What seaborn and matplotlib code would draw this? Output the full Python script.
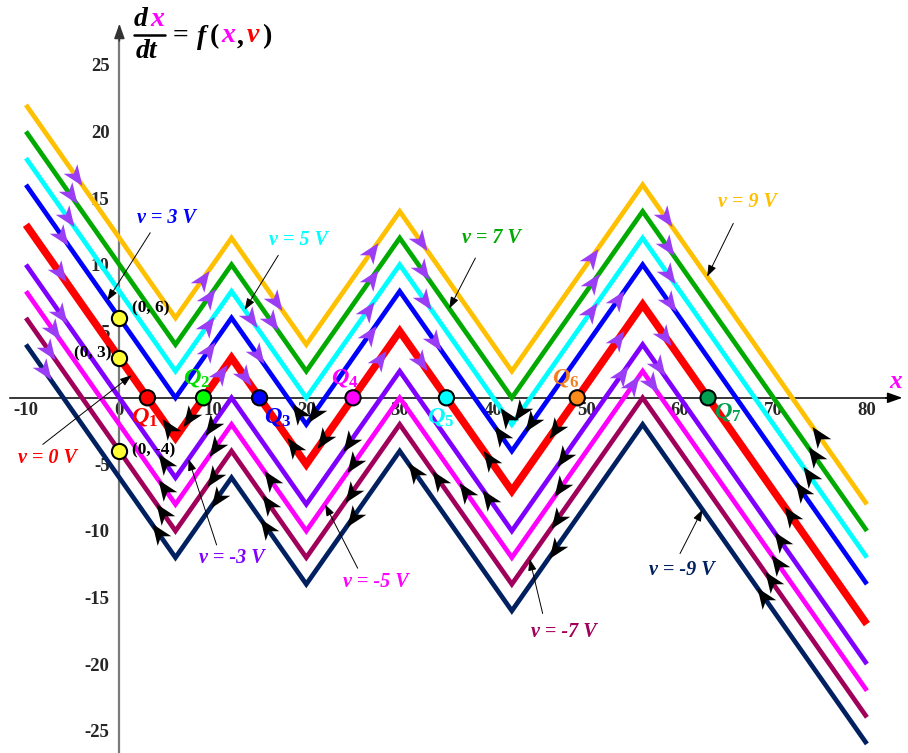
import numpy as np
import pandas as pd
import matplotlib
matplotlib.use("Agg")
import matplotlib.pyplot as plt
from matplotlib.path import Path
from matplotlib.markers import MarkerStyle
from matplotlib.transforms import Affine2D
import seaborn as sns

# ---------------------------------------------------------------- data
# vertices of the piecewise-linear base curve f(x) for v = 0
x_nodes = [-10, 6, 12, 20, 30, 42, 56, 80]
f_nodes = [13, -3, 3, -5, 5, -7, 7, -17]

# family of curves dx/dt = f(x) + v
v_levels = [9, 7, 5, 3, 0, -3, -5, -7, -9]
line_colors = ["#FFC000", "#00AA00", "#00FFFF", "#0000FF", "#FF0000",
               "#8000FF", "#FF00FF", "#A0005A", "#002060"]

# x positions of the direction arrowheads on each curve
arrow_x = {
    9: [-4.6, 8.9, 16.8, 27.0, 32.3, 50.6, 58.5, 74.8],
    7: [-5.2, 9.6, 16.3, 27.0, 32.5, 50.7, 58.7, 74.3],
    5: [-5.5, 9.5, 14.1, 26.6, 32.7, 50.5, 58.8, 41.4, 42.9, 73.8],
    3: [-6.1, 9.6, 14.8, 26.8, 33.8, 53.4, 58.9, 19.1, 20.8, 40.7, 44.1, 72.9],
    0: [-6.4, 10.9, 13.4, 27.9, 32.3, 53.4, 58.4, 5.2, 7.5, 18.6, 21.8, 39.6, 46.6, 71.8],
    -3: [-6.2, 53.8, 57.7, 4.8, 9.8, 24.6, 39.5, 47.5, 70.7],
    -5: [-7.0, 55.0, 57.0, 4.8, 10.2, 16.1, 25.0, 37.0, 47.2, 70.4],
    -7: [-7.5, 4.6, 10.0, 15.9, 24.8, 34.1, 46.8, 69.7],
    -9: [-8.0, 4.1, 10.4, 15.7, 25.0, 31.5, 46.6, 68.9],
}

# equilibrium points of the v = 0 curve
eq_x = [3, 9, 15, 25, 35, 49, 63]
eq_colors = ["#FF0000", "#00FF00", "#0000FF", "#FF00FF", "#00FFFF", "#FF8C1A", "#00A050"]
eq_label_colors = ["#FF0000", "#00DD00", "#0000FF", "#FF00FF", "#00FFFF", "#F08020", "#00A050"]

# curves whose intercept with the vertical axis is marked
marked_v = [3, 0, -7]

x_ticks = [-10, 0, 10, 20, 30, 40, 50, 60, 70, 80]
y_ticks = [-25, -20, -15, -10, -5, 5, 10, 15, 20, 25]

# ---------------------------------------------------------------- layout
label_pos = {9: (67.2, 14.7), 7: (39.8, 11.98), 5: (19.2, 11.86), 3: (5.06, 13.5),
             0: (-7.7, -4.54), -3: (12.0, -12.05), -5: (27.4, -13.8),
             -7: (47.6, -17.56), -9: (60.2, -12.95)}
pointer_tail = {9: (65.7, 13.1), 7: (38.1, 10.5), 5: (17.0, 10.7), 3: (3.3, 12.4),
                0: (-8.2, -3.5), -3: (10.4, -11.05), -5: (25.5, -12.8),
                -7: (45.3, -16.2), -9: (60.0, -11.7)}
pointer_tip_x = {9: 62.9, 7: 35.3, 5: 13.4, 3: -1.3, 0: 1.3, -3: 7.4,
                 -5: 22.0, -7: 43.9, -9: 62.4}
eq_label_pos = [(2.74, -1.42), (8.27, 1.47), (16.9, -1.42), (24.1, 1.49),
                (34.4, -1.42), (47.8, 1.49), (65.1, -1.04)]
marked_label_pos = {3: (1.3, 6.73, "left"), 0: (-0.85, 3.35, "right"), -7: (1.3, -3.92, "left")}

W, H = 908, 753
sns.set_style("white")
plt.rcParams["font.family"] = ["Liberation Serif", "DejaVu Serif"]
plt.rcParams["axes.unicode_minus"] = False
plt.rcParams["mathtext.fontset"] = "custom"
plt.rcParams["mathtext.it"] = "Liberation Serif:italic:bold"
plt.rcParams["mathtext.rm"] = "Liberation Serif:bold"

fig = plt.figure(figsize=(W / 100, H / 100), dpi=100)
ax = fig.add_axes([0, 0, 1, 1])
ax.set_xlim(-12.78, 84.4)
ax.set_ylim(-26.68, 29.88)


def curve(x, v):
    return np.interp(x, x_nodes, f_nodes) + v


# ---------------------------------------------------------------- curves
rows = []
for v in v_levels:
    for xn, fn in zip(x_nodes, f_nodes):
        rows.append({"x": xn, "y": fn + v, "v": v})
df = pd.DataFrame(rows)

sns.lineplot(data=df, x="x", y="y", hue="v", size="v",
             palette=dict(zip(v_levels, line_colors)),
             sizes={v: (5.4 if v == 0 else 3.4) for v in v_levels},
             estimator=None, sort=False, legend=False, ax=ax, zorder=3)
for ln in ax.lines:
    ln.set_solid_joinstyle("miter")
    ln.set_solid_capstyle("butt")

# ---------------------------------------------------------------- axes
for side in ("top", "right"):
    ax.spines[side].set_visible(False)
ax.spines["left"].set_position(("data", 0))
ax.spines["bottom"].set_position(("data", 0))
ax.spines["left"].set_color("#7A7A7A")
ax.spines["left"].set_linewidth(1.6)
ax.spines["bottom"].set_color("black")
ax.spines["bottom"].set_linewidth(1.1)
ax.spines["left"].set_bounds(-26.7, 27.5)
ax.spines["bottom"].set_bounds(-11.7, 83.0)
ax.spines["left"].set_zorder(1)
ax.spines["bottom"].set_zorder(1)
ax.set_axisbelow(True)

ax.set_xticks(x_ticks)
ax.set_yticks(y_ticks)
ax.set_xticklabels([str(t) for t in x_ticks])
ax.set_yticklabels([str(t) for t in y_ticks])
ax.tick_params(axis="x", direction="in", length=4.5, width=0.9, color="black",
               pad=3, labelsize=13.5)
ax.tick_params(axis="y", direction="inout", length=8, width=0.9, color="#555555",
               pad=3, labelsize=13.5)
for t in ax.get_xticklabels() + ax.get_yticklabels():
    t.set_fontweight("bold")
ax.set_xlabel("")
ax.set_ylabel("")

head = dict(arrowstyle="-|>,head_length=0.9,head_width=0.32", color="black",
            lw=1.1, shrinkA=0, shrinkB=0)
ax.annotate("", xy=(83.8, 0), xytext=(82.0, 0), arrowprops=head, annotation_clip=False)
ax.annotate("", xy=(0, 28.1), xytext=(0, 26.8),
            arrowprops=dict(head, color="#333333"), annotation_clip=False)

ax.text(83.1, 1.25, "x", color="#FF00FF", fontsize=18, fontweight="bold",
        style="italic", ha="center", va="center")

# ---------------------------------------------------------------- arrowheads
stealth = Path([(1, 0), (-1, 0.8), (-0.45, 0), (-1, -0.8), (1, 0)],
               [Path.MOVETO, Path.LINETO, Path.LINETO, Path.LINETO, Path.CLOSEPOLY])
fig.canvas.draw()
for v, xs in arrow_x.items():
    for xa in xs:
        ya = curve(xa, v)
        slope = (curve(xa + 0.01, v) - curve(xa - 0.01, v)) / 0.02
        p0 = ax.transData.transform((xa, ya))
        p1 = ax.transData.transform((xa + 1, ya + slope))
        ang = np.degrees(np.arctan2(p1[1] - p0[1], p1[0] - p0[0]))
        col = "#9B3DF5" if ya > 0 else "black"
        if ya <= 0:
            ang += 180
        ms = MarkerStyle(stealth, transform=Affine2D().rotate_deg(ang))
        ax.plot([xa], [ya], linestyle="none", marker=ms, markersize=15,
                color=col, markeredgewidth=0, zorder=5)

# ---------------------------------------------------------------- points
ax.scatter(eq_x, [0] * len(eq_x), s=120, c=eq_colors, edgecolors="black",
           linewidths=1.5, zorder=6)
for i, (pos, col) in enumerate(zip(eq_label_pos, eq_label_colors)):
    ax.text(pos[0], pos[1], r"$Q_{\mathit{%d}}$" % (i + 1), color=col, fontsize=17.5,
            ha="center", va="center", zorder=7)

ax.scatter([0] * len(marked_v), [curve(0, v) for v in marked_v], s=120,
           c="#FFFF33", edgecolors="black", linewidths=1.5, zorder=6)
for v in marked_v:
    lx, ly, ha = marked_label_pos[v]
    ax.text(lx, ly, "(0, %d)" % round(curve(0, v)), fontsize=12.5, fontweight="bold",
            ha=ha, va="center", color="black", zorder=7)

# ---------------------------------------------------------------- curve labels
for v, col in zip(v_levels, line_colors):
    lx, ly = label_pos[v]
    ax.text(lx, ly, "v = %d V" % v, color=col, fontsize=14.5, fontweight="bold",
            style="italic", ha="center", va="center", zorder=7)
    tx = pointer_tip_x[v]
    ax.annotate("", xy=(tx, curve(tx, v)), xytext=pointer_tail[v],
                arrowprops=dict(arrowstyle="-|>,head_length=0.7,head_width=0.25",
                                color="black", lw=0.7, shrinkA=0, shrinkB=0),
                zorder=7)

# ---------------------------------------------------------------- equation
def ftxt(px, py, s, color="black", size=20, style="italic"):
    fig.text(px / W, 1 - py / H, s, color=color, fontsize=size, fontweight="bold",
             style=style, ha="left", va="center")


ftxt(134, 19, "d")
ftxt(150, 19, "x", "#FF00FF")
fig.add_artist(plt.Line2D([134 / W, 165 / W], [1 - 35 / H, 1 - 35 / H],
                          color="black", lw=1.8))
ftxt(136, 52, "dt")
ftxt(173, 36, "=", style="normal")
ftxt(197, 37, "f")
ftxt(210, 37, "(", style="normal")
ftxt(221, 36, "x", "#FF00FF")
ftxt(237, 37, ",", style="normal")
ftxt(247, 36, "v", "#FF0000")
ftxt(262, 37, ")", style="normal")

fig.savefig("out.png", dpi=100)
